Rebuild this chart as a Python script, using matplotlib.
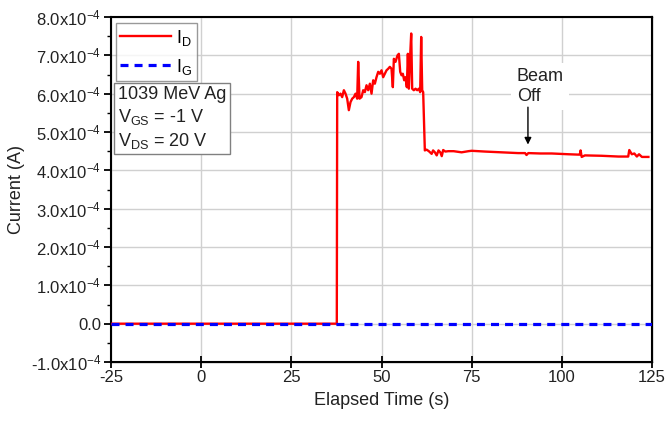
import matplotlib
matplotlib.use("Agg")
import matplotlib.pyplot as plt
from matplotlib.ticker import MultipleLocator

plt.rcParams['font.family'] = ['Liberation Sans', 'DejaVu Sans']
plt.rcParams['mathtext.fontset'] = 'custom'
plt.rcParams['mathtext.rm'] = 'Liberation Sans'
plt.rcParams['mathtext.it'] = 'Liberation Sans'
plt.rcParams['mathtext.default'] = 'regular'

# Drain current I_D (time in s, current in units of 1e-4 A)
t_d = [-25, 37.6, 37.71, 38.17, 38.63, 39.09, 39.56, 40.02, 40.48, 40.94, 41.40, 41.87,
       42.33, 42.79, 43.25, 43.53, 43.90, 44.45, 44.92, 45.38, 45.84, 46.30, 46.77,
       47.23, 47.69, 48.15, 48.61, 49.08, 49.54, 50.0, 50.46, 50.92, 51.39, 51.85,
       52.31, 52.77, 53.14, 53.42, 53.88, 54.44, 54.81, 55.18, 55.55, 55.91, 56.28,
       56.65, 57.02, 57.30, 57.58, 57.95, 58.23, 58.50, 58.96, 59.43, 59.89, 60.35,
       60.72, 61.0, 61.28, 61.55, 62.01, 62.5, 63.12, 63.9, 64.3, 64.8, 65.3, 65.8,
       66.3, 66.7, 67.1, 67.7, 68.5, 70.0, 72.2, 74.1, 75.0, 78.7, 83.3, 87.9, 89.8,
       90.2, 90.7, 94.0, 97.2, 101.8, 104.6, 105.0, 105.2, 105.5, 106.4, 111.0, 115.7,
       118.4, 118.7, 119.4, 120.1, 120.8, 121.4, 122.2, 124.0]
i_d = [0.0, 0.0, 6.04, 5.96, 6.00, 5.91, 6.09, 6.00, 5.87, 5.57, 5.78, 5.87,
       5.91, 6.00, 5.87, 6.83, 5.87, 5.91, 6.09, 6.04, 6.22, 6.09, 6.26,
       6.00, 6.35, 6.26, 6.43, 6.57, 6.52, 6.61, 6.43, 6.52, 6.61, 6.65,
       6.70, 6.65, 6.17, 6.91, 6.83, 7.00, 7.04, 6.57, 6.48, 6.52, 6.35,
       6.43, 6.17, 7.04, 6.13, 7.00, 7.57, 6.13, 6.09, 6.13, 6.09, 6.13,
       6.04, 7.48, 6.09, 6.04, 4.52, 4.54, 4.50, 4.43, 4.52, 4.47, 4.39, 4.52,
       4.47, 4.37, 4.53, 4.49, 4.50, 4.50, 4.47, 4.50, 4.51, 4.49, 4.47, 4.45, 4.45,
       4.40, 4.45, 4.44, 4.44, 4.42, 4.41, 4.41, 4.52, 4.35, 4.39, 4.38, 4.36,
       4.36, 4.53, 4.42, 4.44, 4.36, 4.42, 4.35, 4.35]

# Gate current I_G
t_g = [-25, 125]
i_g = [0.0, 0.0]

x_ticks = [-25, 0, 25, 50, 75, 100, 125]
y_ticks = [-1, 0, 1, 2, 3, 4, 5, 6, 7, 8]
y_ticklabels = ['-1.0x10$^{-4}$', '0.0', '1.0x10$^{-4}$', '2.0x10$^{-4}$', '3.0x10$^{-4}$',
                '4.0x10$^{-4}$', '5.0x10$^{-4}$', '6.0x10$^{-4}$', '7.0x10$^{-4}$', '8.0x10$^{-4}$']

TXT = '#222222'
fig = plt.figure(figsize=(6.66, 4.21), dpi=100)
ax = fig.add_axes([0.1667, 0.1401, 0.8123, 0.8195])

scale = 1e-4
ax.plot(t_d, [v * scale for v in i_d], color='#ff0000', lw=1.7, label='I$_D$', zorder=3)
ax.plot(t_g, [v * scale for v in i_g], color='#0000ff', lw=2.3, ls=(0, (2.5, 1.9)), label='I$_G$', zorder=4)

ax.set_xlim(-25, 125)
ax.set_ylim(-1e-4, 8e-4)
ax.set_xticks(x_ticks)
ax.set_xticklabels([str(v) for v in x_ticks])
ax.set_yticks([v * scale for v in y_ticks])
ax.set_yticklabels(y_ticklabels)
ax.yaxis.set_minor_locator(MultipleLocator(0.5e-4))

ax.grid(True, which='major', color='#d0d0d0', lw=1.0, zorder=0)
ax.set_axisbelow(True)

for s in ax.spines.values():
    s.set_linewidth(1.5)
    s.set_color('black')

ax.tick_params(axis='y', which='major', labelsize=12, direction='out', length=5, width=1.3,
               colors='black', labelcolor=TXT, pad=2)
ax.tick_params(axis='x', which='major', labelsize=12, direction='inout', length=8, width=1.3,
               colors='black', labelcolor=TXT, pad=2)
ax.tick_params(axis='y', which='minor', direction='out', length=3, width=1.0)

# Right spine inward ticks
axr = ax.twinx()
axr.set_ylim(ax.get_ylim())
axr.set_yticks([v * scale for v in y_ticks])
axr.yaxis.set_minor_locator(MultipleLocator(0.5e-4))
axr.tick_params(axis='y', which='major', direction='in', length=5, width=1.3, labelright=False)
axr.tick_params(axis='y', which='minor', direction='in', length=3, width=1.0)
axr.spines['right'].set_linewidth(1.5)
# Top spine inward ticks
axt = ax.twiny()
axt.set_xlim(ax.get_xlim())
axt.set_xticks(x_ticks)
axt.tick_params(axis='x', which='major', direction='in', length=5, width=1.3, labeltop=False)
axr.set_zorder(-1); axt.set_zorder(-1)

ax.set_xlabel('Elapsed Time (s)', fontsize=13, color=TXT, labelpad=5)
ax.set_ylabel('Current (A)', fontsize=13, color=TXT, labelpad=4)

leg = ax.legend(loc='upper left', bbox_to_anchor=(0.002, 0.993), fontsize=13, frameon=True,
                fancybox=False, edgecolor='#808080', handlelength=2.8, handletextpad=0.3,
                borderpad=0.25, labelspacing=0.5, borderaxespad=0.2)
leg.get_frame().set_linewidth(1.0)

ax.text(0.013, 0.800, '1039 MeV Ag\nV$_{GS}$ = -1 V\nV$_{DS}$ = 20 V', fontsize=13,
        color=TXT, va='top', ha='left', linespacing=1.25, transform=ax.transAxes,
        bbox=dict(boxstyle='square,pad=0.2', fc='white', ec='#808080', lw=1.0), zorder=6)

ax.text(0.750, 0.852, 'Beam\nOff', fontsize=13, color=TXT, ha='left', va='top',
        linespacing=1.2, transform=ax.transAxes,
        bbox=dict(boxstyle='square,pad=0.3', fc='white', ec='none'), zorder=5)
ax.annotate('', xy=(90.6, 4.60e-4), xytext=(90.6, 5.72e-4),
            arrowprops=dict(arrowstyle='-|>', color='black', lw=1.0, mutation_scale=10), zorder=5)

fig.savefig('out.png', dpi=100)
